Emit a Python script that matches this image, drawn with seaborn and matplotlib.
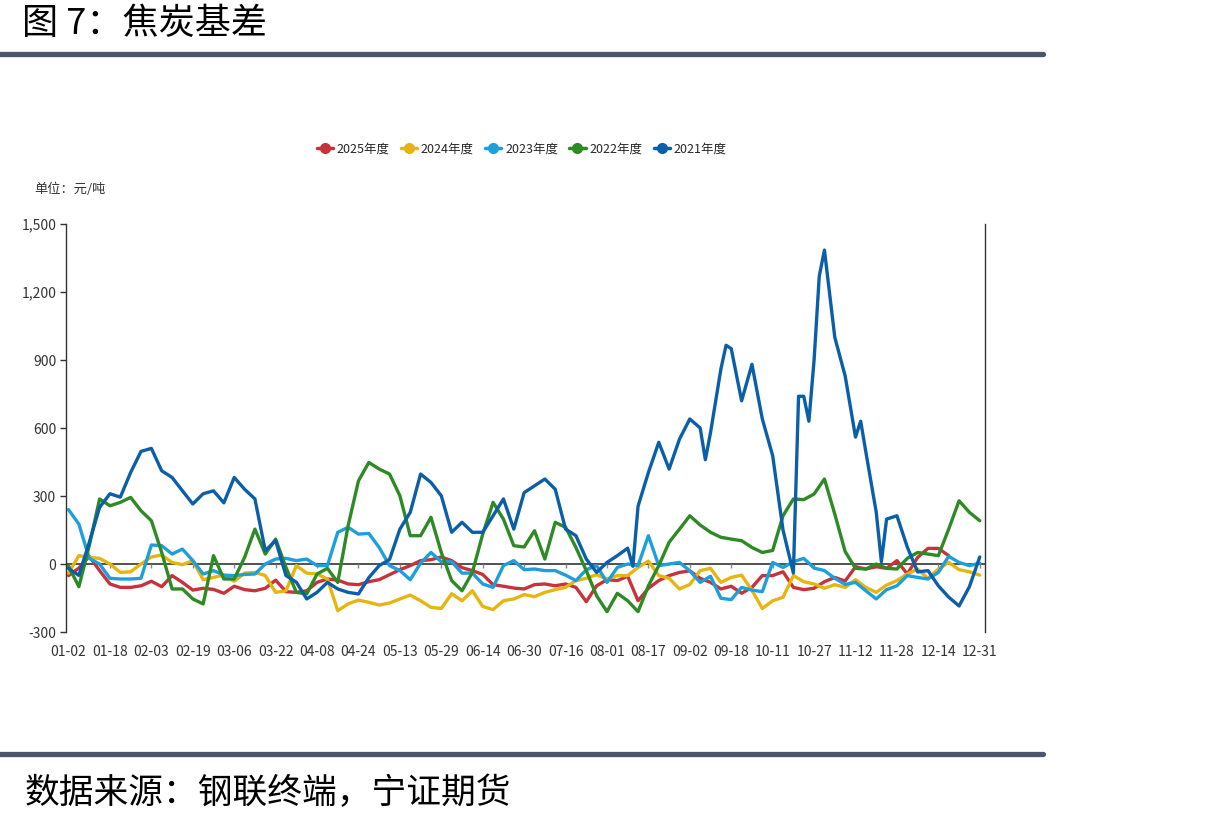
import matplotlib
matplotlib.use("Agg")
import matplotlib.pyplot as plt
from matplotlib.lines import Line2D
import seaborn as sns
import pandas as pd

sns.set_theme(style="white")
plt.rcParams["font.family"] = ["Noto Sans CJK SC", "DejaVu Sans"]
plt.rcParams["axes.unicode_minus"] = False

# x axis: day index, one tick label every 16 days
tick_labels = ["01-02", "01-18", "02-03", "02-19", "03-06", "03-22", "04-08", "04-24",
               "05-13", "05-29", "06-14", "06-30", "07-16", "08-01", "08-17", "09-02",
               "09-18", "10-11", "10-27", "11-12", "11-28", "12-14", "12-31"]
days = list(range(0, 353, 4))

years = ["2025年度", "2024年度", "2023年度", "2022年度", "2021年度"]
colors = ["#c8323b", "#e6b50f", "#1c9fdc", "#2e8a24", "#0b5ea8"]

# basis, yuan/ton
v2025 = [-51, -18, 34, -29, -88, -103, -103, -96, -76, -100, -51, -81, -115, -107,
         -112, -129, -98, -113, -118, -107, -71, -122, -125, -118, -81, -66, -71, -88, -91, -78,
         -69, -47, -25, -7, 15, 19, 31, 15, -16, -29, -46, -91, -98, -106, -110,
         -91, -88, -96, -88, -103, -166, -96, -69, -73, -54, -162, -107, -73, -51, -37, -30,
         -63, -81, -110, -98, -129, -103, -51, -51, -34, -103, -113, -107, -78, -59, -75,
         -12, -22, -12, -19, 15, -44, 29, 69, 69, 37]

v2024 = [-40, 37, 29, 25, 0, -37, -34, 0, 31, 40, 7, -3, 15, -69,
         -59, -49, -76, -40, -37, -51, -125, -118, -7, -40, -44, -66, -206, -176, -159, -169,
         -181, -172, -154, -137, -162, -191, -196, -131, -162, -118, -187, -201, -162, -154, -135,
         -144, -125, -113, -103, -73, -63, -47, -66, -51, -51, -15, 13, -51, -63, -110, -90,
         -29, -19, -81, -59, -49, -116, -196, -162, -147, -51, -78, -88, -107, -91, -103,
         -69, -103, -125, -93, -73, -44, -22, -63, -22, 7, -25, -34, -49]

v2023 = [240, 176, 25, 0, -63, -66, -66, -63, 84, 81, 44, 66, 15, -44,
         -29, -49, -51, -46, -44, 0, 22, 25, 15, 22, -7, -7, 140, 162, 132, 135,
         73, -7, -29, -69, 4, 51, 10, 10, -40, -40, -88, -103, -7, 15, -25,
         -22, -29, -29, -49, -73, -25, -7, -81, -15, 0, -7, 125, -7, 0, 7, -30,
         -81, -54, -151, -157, -103, -115, -122, 7, -15, 10, 25, -18, -29, -63, -90,
         -81, -118, -154, -113, -96, -51, -59, -66, -37, 34, 7, -7, 4]

v2022 = [-10, -100, 81, 287, 257, 272, 294, 235, 191, 51, -110, -110, -154, -176,
         37, -66, -66, 29, 154, 44, 110, -15, -125, -132, -44, -19, -81, 169, 367, 448,
         419, 397, 301, 125, 125, 206, 51, -73, -118, -37, 132, 272, 198, 81, 75,
         147, 22, 184, 162, 73, -29, -140, -210, -129, -162, -210, -96, -7, 96, 154, 213,
         172, 140, 118, 110, 103, 73, 51, 60, 213, 287, 284, 309, 375, 220, 55,
         -19, -22, 0, -19, -22, 25, 51, 44, 37, 154, 279, 228, 191]

days2021 = [0, 4, 8, 12, 16, 20, 24, 28, 32, 36, 40, 44, 48, 52,
            56, 60, 64, 68, 72, 76, 80, 84, 88, 92, 96, 100, 104, 108, 112, 116,
            120, 124, 128, 132, 136, 140, 144, 148, 152, 156, 160, 164, 168, 172, 176,
            180, 184, 188, 192, 196, 200, 204, 208, 212, 216, 218, 220, 224, 228, 232, 236, 240,
            244, 246, 248, 252, 254, 256, 260, 264, 268, 272, 276, 280, 282, 284, 286, 288, 290, 292, 296, 300,
            304, 306, 308, 312, 314, 316, 320, 324, 328, 332, 336, 340, 344, 348, 352]
v2021 = [-20, -50, 95, 250, 310, 295, 404, 497, 510, 411, 382, 323, 265, 310,
         323, 270, 382, 330, 287, 59, 103, -51, -80, -154, -125, -81, -110, -125, -132, -60,
         -7, 20, 154, 228, 397, 360, 301, 140, 184, 140, 140, 213, 287, 154, 315,
         345, 375, 330, 154, 125, 22, -37, 7, 37, 70, -10, 255, 404, 537, 419, 551, 640,
         600, 460, 580, 860, 965, 950, 720, 881, 640, 478, 150, -40, 740, 740, 630, 900, 1270, 1385, 1000, 830,
         560, 630, 494, 229, 10, 198, 213, 75, -35, -29, -96, -146, -185, -100, 31]

series = [(years[0], days[:len(v2025)], v2025),
          (years[1], days, v2024),
          (years[2], days, v2023),
          (years[3], days, v2022),
          (years[4], days2021, v2021)]
df = pd.concat([pd.DataFrame({"day": d, "value": v, "year": y}) for y, d, v in series],
               ignore_index=True)

fig = plt.figure(figsize=(12.1, 8.22), dpi=100)
ax = fig.add_axes([0.0545, 0.2311, 0.7595, 0.4964])

ax.axhline(0, color="#222222", lw=1.1, zorder=1)
sns.lineplot(data=df, x="day", y="value", hue="year", hue_order=years,
             palette=colors, linewidth=2.4, estimator=None, sort=False,
             legend=False, ax=ax, zorder=2)

xticks = list(range(0, 353, 16))
ax.vlines(xticks, -18, 0, color="#888888", lw=1, zorder=1)
ax.set_xticks(xticks)
ax.set_xticklabels(tick_labels)
ax.set_xlim(-1, 354)
ax.set_ylim(-300, 1500)
yticks = [-300, 0, 300, 600, 900, 1200, 1500]
ax.set_yticks(yticks)
ax.set_yticklabels([f"{t:,}" for t in yticks])
ax.tick_params(axis="x", length=0, pad=9, labelsize=10, colors="#333333")
ax.tick_params(axis="y", length=4, width=1, pad=3, labelsize=10,
               colors="#333333", left=True)
ax.set_xlabel("")
ax.set_ylabel("")
for side in ["top", "bottom"]:
    ax.spines[side].set_visible(False)
for side in ["left", "right"]:
    ax.spines[side].set_color("#333333")
    ax.spines[side].set_linewidth(1)
ax.grid(False)

handles = [Line2D([], [], color=c, lw=2.5, marker="o", markersize=7) for c in colors]
fig.legend(handles, years, loc="center", bbox_to_anchor=(0.431, 0.819), ncol=5,
           frameon=False, fontsize=9, handlelength=1.3, handletextpad=0.3,
           columnspacing=0.9)

fig.text(0.028, 0.770, "单位：元/吨", fontsize=9.5, color="#333333", va="center")

# header / footer
fig.text(0.018, 0.971, "图 7：焦炭基差", fontsize=26, va="center", color="black")
fig.add_artist(Line2D([0, 0.862], [0.9337, 0.9337], color="#4b566b", lw=3.8))
fig.add_artist(Line2D([0, 0.862], [0.0827, 0.0827], color="#4b566b", lw=3.8))
fig.text(0.02, 0.035, "数据来源：钢联终端，宁证期货", fontsize=25, va="center", color="black")

fig.savefig("out.png", dpi=100)
